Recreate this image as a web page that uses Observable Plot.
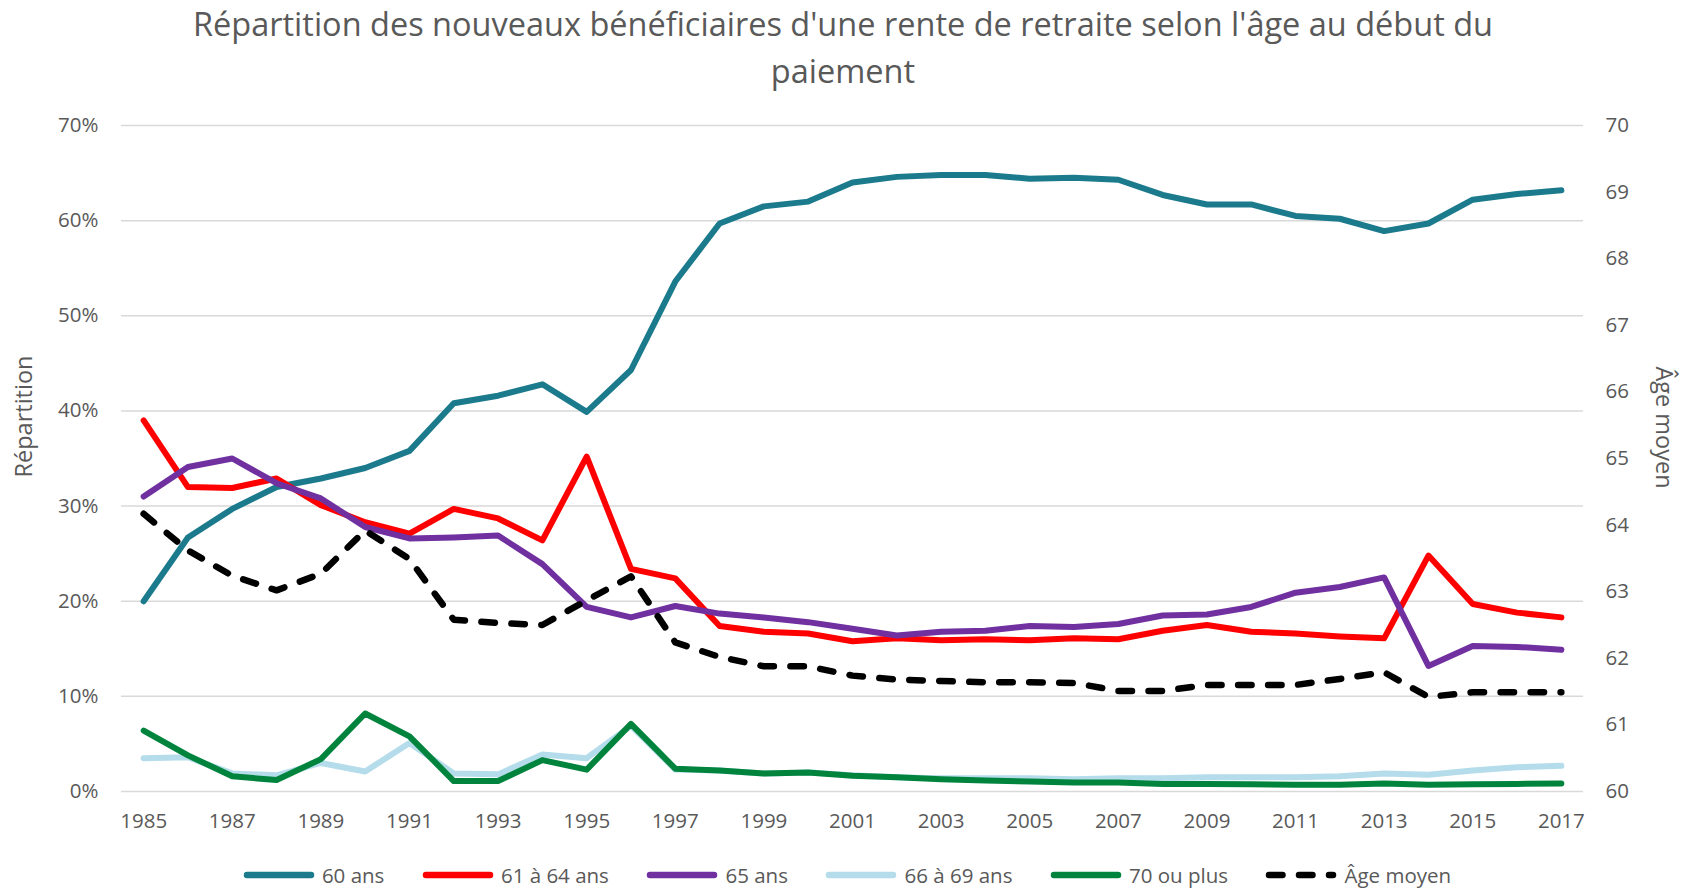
<!DOCTYPE html>
<html>
<head>
<meta charset="utf-8">
<script src="https://cdn.jsdelivr.net/npm/d3@7"></script>
<script src="https://cdn.jsdelivr.net/npm/@observablehq/plot@0.6"></script>
<style>
  html, body { margin: 0; padding: 0; background: #fff; }
  body { width: 1686px; height: 889px; overflow: hidden; font-family: "Open Sans", sans-serif; color: #595959; }
  #title { height: 94px; font-size: 32.5px; line-height: 47px; text-align: center; }
  #chart svg { display: block; }
  #legend { height: 50px; display: flex; justify-content: center; align-items: center; gap: 37.5px; padding-left: 8px; font-size: 20.5px; }
  .item { display: flex; align-items: center; gap: 7px; }
</style>
</head>
<body>
<div id="title">Répartition des nouveaux bénéficiaires d'une rente de retraite selon l'âge au début du<br>paiement</div>
<div id="chart"></div>
<div id="legend"></div>
<script>
const years = [1985,1986,1987,1988,1989,1990,1991,1992,1993,1994,1995,1996,1997,1998,1999,2000,2001,2002,2003,2004,2005,2006,2007,2008,2009,2010,2011,2012,2013,2014,2015,2016,2017];
const xTicks = [1985,1987,1989,1991,1993,1995,1997,1999,2001,2003,2005,2007,2009,2011,2013,2015,2017];
const pctTicks = [0,10,20,30,40,50,60,70];
const ageTicks = [60,61,62,63,64,65,66,67,68,69,70];

const s60 = [20.0,26.7,29.7,32.0,32.9,34.0,35.8,40.8,41.6,42.8,39.9,44.3,53.6,59.7,61.5,62.0,64.0,64.6,64.8,64.8,64.4,64.5,64.3,62.7,61.7,61.7,60.5,60.2,58.9,59.7,62.2,62.8,63.2];
const s61_64 = [39.0,32.0,31.9,32.9,30.1,28.3,27.1,29.7,28.7,26.4,35.2,23.4,22.4,17.4,16.8,16.6,15.8,16.1,15.9,16.0,15.9,16.1,16.0,16.9,17.5,16.8,16.6,16.3,16.1,24.8,19.7,18.8,18.3];
const s65 = [31.0,34.1,35.0,32.4,30.8,27.8,26.6,26.7,26.9,23.9,19.4,18.3,19.5,18.7,18.3,17.8,17.1,16.4,16.8,16.9,17.4,17.3,17.6,18.5,18.6,19.4,20.9,21.5,22.5,13.2,15.3,15.2,14.9];
const s66_69 = [3.5,3.6,1.9,1.7,3.0,2.1,5.1,1.9,1.8,3.9,3.5,6.9,2.3,2.2,1.9,2.0,1.7,1.5,1.4,1.4,1.4,1.3,1.4,1.4,1.5,1.5,1.5,1.6,1.9,1.75,2.2,2.55,2.7];
const s70 = [6.4,3.8,1.6,1.2,3.4,8.2,5.8,1.1,1.1,3.3,2.3,7.1,2.4,2.2,1.9,2.0,1.65,1.5,1.3,1.15,1.05,0.95,0.95,0.8,0.8,0.75,0.7,0.7,0.85,0.7,0.75,0.8,0.85];
const ageMoyen = [64.17,63.62,63.24,63.02,63.27,63.92,63.49,62.58,62.53,62.50,62.87,63.23,62.24,62.02,61.88,61.88,61.74,61.68,61.66,61.64,61.64,61.63,61.51,61.51,61.60,61.60,61.60,61.69,61.79,61.42,61.49,61.49,61.49];

const seriesNames = ["60 ans","61 à 64 ans","65 ans","66 à 69 ans","70 ou plus","Âge moyen"];
const seriesColors = ["#1B7A8C","#FF0000","#7030A0","#B4DCEB","#00843D","#000000"];

// secondary axis (60–70) mapped onto the primary 0–70 % scale
const ageToY = a => (a - 60) * 7;
const yToAge = v => v / 7 + 60;

const percentSeries = [s60, s61_64, s65, s66_69, s70];
const lines = percentSeries.map((arr, k) =>
  Plot.line(years.map((yr, i) => ({year: yr, value: arr[i]})), {
    x: "year", y: "value", stroke: seriesColors[k], strokeWidth: 6,
    strokeLinejoin: "round", strokeLinecap: "round"
  })
);
const ageLine = Plot.line(years.map((yr, i) => ({year: yr, value: ageToY(ageMoyen[i])})), {
  x: "year", y: "value", stroke: "#000", strokeWidth: 6.5,
  strokeDasharray: "13.5 16.5", strokeLinejoin: "round", strokeLinecap: "round"
});

const chart = Plot.plot({
  width: 1686,
  height: 756,
  marginTop: 31,
  marginBottom: 59,
  marginLeft: 121,
  marginRight: 103,
  style: {fontFamily: "'Open Sans', sans-serif", fontSize: "20.5px", color: "#595959", background: "#fff"},
  x: {domain: [1984.5, 2017.5]},
  y: {domain: [0, 70]},
  marks: [
    Plot.gridY(pctTicks, {stroke: "#D9D9D9", strokeOpacity: 1, strokeWidth: 1.5}),
    Plot.axisY(pctTicks, {anchor: "left", tickSize: 0, tickPadding: 23, tickFormat: d => d + "%", label: null}),
    Plot.axisY(ageTicks.map(ageToY), {anchor: "right", tickSize: 0, tickPadding: 22, tickFormat: d => String(Math.round(yToAge(d))), label: null}),
    Plot.axisX(xTicks, {anchor: "bottom", tickSize: 0, tickPadding: 22, tickFormat: d => String(d), label: null}),
    Plot.text(["Répartition"], {frameAnchor: "left", dx: -97, dy: -42, rotate: -90, fill: "#595959", fontSize: 23.5, textAnchor: "middle"}),
    Plot.text(["Âge moyen"], {frameAnchor: "right", dx: 80, dy: -31, rotate: 90, fill: "#595959", fontSize: 23.5, textAnchor: "middle"}),
    ...lines,
    ageLine
  ]
});
document.getElementById("chart").appendChild(chart);

const legend = document.getElementById("legend");
seriesNames.forEach((name, k) => {
  const item = document.createElement("div");
  item.className = "item";
  const dash = k === 5 ? 'stroke-dasharray="13.5 16.5"' : '';
  item.innerHTML = `<svg width="72" height="12"><line x1="4" y1="6" x2="68" y2="6" stroke="${seriesColors[k]}" stroke-width="6.5" stroke-linecap="round" ${dash}/></svg><span>${name}</span>`;
  legend.appendChild(item);
});
</script>
</body>
</html>
